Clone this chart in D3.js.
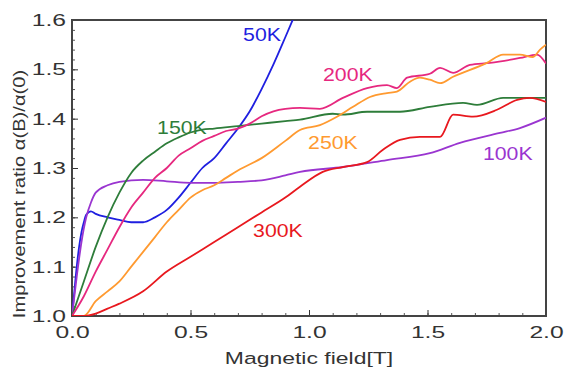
<!DOCTYPE html>
<html>
<head>
<meta charset="utf-8">
<script src="https://cdn.jsdelivr.net/npm/d3@7"></script>
<style>
  body { margin: 0; background: #fff; }
  text { font-family: "Liberation Sans", Arial, sans-serif; }
</style>
</head>
<body>
<div id="chart"></div>
<script>
// field values (T) and improvement ratios
const k50x = [0, 0.01, 0.02, 0.03, 0.04, 0.05, 0.06, 0.08, 0.1, 0.15, 0.2, 0.25, 0.3, 0.35, 0.4, 0.45, 0.5, 0.55, 0.6, 0.65, 0.7, 0.75, 0.8, 0.85, 0.9, 0.94];
const k50y = [1.0, 1.05, 1.1, 1.14, 1.17, 1.19, 1.205, 1.212, 1.207, 1.2, 1.195, 1.19, 1.19, 1.2, 1.215, 1.24, 1.27, 1.3, 1.32, 1.35, 1.38, 1.415, 1.46, 1.51, 1.565, 1.61];

const k100x = [0, 0.02, 0.04, 0.06, 0.08, 0.1, 0.15, 0.2, 0.3, 0.4, 0.5, 0.6, 0.7, 0.8, 0.9, 0.962, 1.143, 1.329, 1.51, 1.637, 1.806, 1.89, 2.0];
const k100y = [1.0, 1.08, 1.15, 1.2, 1.23, 1.25, 1.265, 1.272, 1.276, 1.273, 1.27, 1.27, 1.272, 1.275, 1.285, 1.292, 1.302, 1.316, 1.33, 1.351, 1.371, 1.381, 1.402];

const k150x = [0, 0.05, 0.1, 0.15, 0.2, 0.25, 0.3, 0.35, 0.4, 0.45, 0.5, 0.55, 0.6, 0.7, 0.8, 0.9, 0.962, 1.1, 1.143, 1.245, 1.384, 1.51, 1.65, 1.709, 1.819, 2.0];
const k150y = [1.0, 1.07, 1.14, 1.2, 1.25, 1.29, 1.315, 1.333, 1.35, 1.362, 1.372, 1.378, 1.38, 1.385, 1.39, 1.395, 1.398, 1.41, 1.408, 1.414, 1.414, 1.424, 1.432, 1.428, 1.442, 1.442];

const k200x = [0, 0.05, 0.1, 0.15, 0.2, 0.25, 0.3, 0.35, 0.4, 0.45, 0.5, 0.55, 0.6, 0.65, 0.7, 0.75, 0.8, 0.85, 0.9, 0.962, 1.046, 1.143, 1.245, 1.329, 1.371, 1.414, 1.51, 1.553, 1.608, 1.679, 1.764, 1.89, 1.962, 2.0];
const k200y = [1.0, 1.04, 1.09, 1.135, 1.18, 1.22, 1.25, 1.28, 1.3, 1.325, 1.34, 1.355, 1.365, 1.375, 1.38, 1.39, 1.405, 1.415, 1.42, 1.422, 1.42, 1.442, 1.462, 1.468, 1.462, 1.483, 1.491, 1.503, 1.493, 1.509, 1.513, 1.523, 1.53, 1.512];

const k250x = [0, 0.05, 0.1, 0.15, 0.2, 0.25, 0.3, 0.35, 0.4, 0.45, 0.5, 0.55, 0.6, 0.65, 0.7, 0.8, 0.9, 0.962, 1.046, 1.118, 1.186, 1.257, 1.329, 1.371, 1.426, 1.468, 1.51, 1.553, 1.608, 1.751, 1.819, 1.89, 1.945, 1.975, 2.0];
const k250y = [1.0, 1.0, 1.03, 1.05, 1.07, 1.1, 1.13, 1.16, 1.19, 1.215, 1.24, 1.255, 1.265, 1.28, 1.295, 1.32, 1.355, 1.377, 1.387, 1.404, 1.424, 1.444, 1.452, 1.455, 1.475, 1.483, 1.479, 1.472, 1.485, 1.513, 1.53, 1.53, 1.525, 1.54, 1.55];

const k300x = [0, 0.05, 0.1, 0.15, 0.2, 0.3, 0.4, 0.5, 0.6, 0.7, 0.8, 0.9, 0.962, 1.058, 1.143, 1.245, 1.312, 1.384, 1.468, 1.553, 1.608, 1.692, 1.793, 1.878, 1.932, 2.0];
const k300y = [1.0, 1.0, 1.005, 1.015, 1.025, 1.05, 1.09, 1.12, 1.15, 1.18, 1.21, 1.24, 1.262, 1.292, 1.302, 1.312, 1.337, 1.357, 1.363, 1.363, 1.408, 1.404, 1.418, 1.438, 1.442, 1.434];

const seriesNames = ['50K', '100K', '150K', '200K', '250K', '300K'];
const seriesX = [k50x, k100x, k150x, k200x, k250x, k300x];
const seriesY = [k50y, k100y, k150y, k200y, k250y, k300y];
const seriesColors = ['#1f1fe0', '#9a35d0', '#2e7d3a', '#e6287f', '#ff9a30', '#e8181e'];
// label anchor points (left edge, baseline) in data units
const labelX = [0.722, 1.734, 0.359, 1.059, 0.996, 0.764];
const labelY = [1.557, 1.317, 1.368, 1.476, 1.338, 1.161];

const xTicks = [0, 0.5, 1.0, 1.5, 2.0];
const yTicks = [1.0, 1.1, 1.2, 1.3, 1.4, 1.5, 1.6];

const width = 565, height = 367;
const margin = { top: 20, right: 19, bottom: 51, left: 72 };

const svg = d3.select('#chart').append('svg').attr('width', width).attr('height', height);

const x = d3.scaleLinear().domain([0, 2]).range([margin.left, width - margin.right]);
const y = d3.scaleLinear().domain([1.0, 1.6]).range([height - margin.bottom, margin.top]);

svg.append('defs').append('clipPath').attr('id', 'clip')
  .append('rect')
  .attr('x', x(0)).attr('y', y(1.6))
  .attr('width', x(2) - x(0)).attr('height', y(1.0) - y(1.6));

// minor ticks (inward)
const xMinor = d3.range(0, 2.0001, 0.1);
const yMinor = d3.range(1.0, 1.6001, 0.02);

svg.append('g')
  .attr('transform', `translate(0,${y(1.0)})`)
  .call(d3.axisBottom(x).tickValues(xMinor).tickSize(-3).tickFormat(''))
  .call((g) => g.select('.domain').remove())
  .call((g) => g.selectAll('line').attr('stroke', '#555'));

svg.append('g')
  .attr('transform', `translate(${x(0)},0)`)
  .call(d3.axisLeft(y).tickValues(yMinor).tickSize(-3).tickFormat(''))
  .call((g) => g.select('.domain').remove())
  .call((g) => g.selectAll('line').attr('stroke', '#555'));

// major ticks
const xAxis = svg.append('g')
  .attr('transform', `translate(0,${y(1.0)})`)
  .call(d3.axisBottom(x).tickValues(xTicks).tickSize(-6).tickFormat(d3.format('.1f')).tickPadding(10));
xAxis.select('.domain').remove();
xAxis.selectAll('line').attr('stroke', '#333');
xAxis.selectAll('text')
  .attr('font-size', 17)
  .attr('fill', '#333')
  .attr('dy', '0.71em')
  .attr('transform', 'scale(1.45,1)');

const yAxis = svg.append('g')
  .attr('transform', `translate(${x(0)},0)`)
  .call(d3.axisLeft(y).tickValues(yTicks).tickSize(-6).tickFormat(d3.format('.1f')).tickPadding(6));
yAxis.select('.domain').remove();
yAxis.selectAll('line').attr('stroke', '#333');
yAxis.selectAll('text')
  .attr('font-size', 17)
  .attr('fill', '#333')
  .attr('transform', 'translate(-6,0) scale(1.45,1) translate(6,0)');

// frame
svg.append('rect')
  .attr('x', x(0)).attr('y', y(1.6))
  .attr('width', x(2) - x(0)).attr('height', y(1.0) - y(1.6))
  .attr('fill', 'none').attr('stroke', '#444').attr('stroke-width', 2);

// lines
const line = d3.line()
  .x((d) => x(d[0]))
  .y((d) => y(d[1]))
  .curve(d3.curveMonotoneX);

const plot = svg.append('g').attr('clip-path', 'url(#clip)');
seriesNames.forEach((name, i) => {
  const pts = seriesX[i].map((v, j) => [v, seriesY[i][j]]);
  plot.append('path')
    .datum(pts)
    .attr('fill', 'none')
    .attr('stroke', seriesColors[i])
    .attr('stroke-width', 1.8)
    .attr('d', line);
});

// series labels
seriesNames.forEach((name, i) => {
  const lx = x(labelX[i]), ly = y(labelY[i]);
  svg.append('text')
    .attr('transform', `translate(${lx},${ly}) scale(1.12,1)`)
    .attr('font-size', 19)
    .attr('fill', seriesColors[i])
    .text(name);
});

// axis titles
svg.append('text')
  .attr('transform', `translate(${x(1.0)},364) scale(1.35,1)`)
  .attr('text-anchor', 'middle')
  .attr('font-size', 17)
  .attr('fill', '#333')
  .text('Magnetic field[T]');

svg.append('text')
  .attr('transform', 'translate(25,194) rotate(-90) scale(1.26,1)')
  .attr('text-anchor', 'middle')
  .attr('font-size', 16)
  .attr('fill', '#333')
  .text('Improvement ratio α(B)/α(0)');
</script>
</body>
</html>
